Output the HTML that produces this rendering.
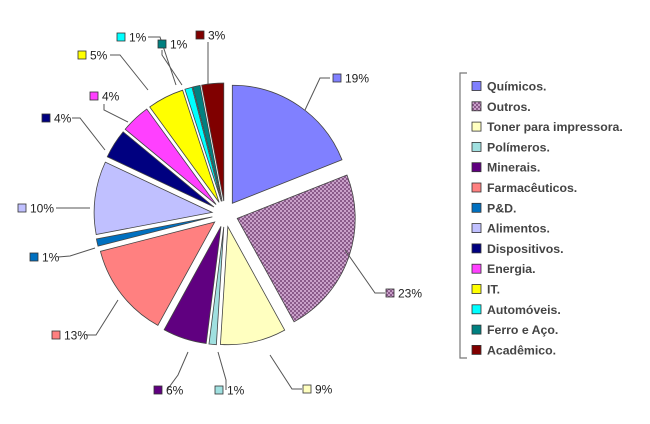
<!DOCTYPE html>
<html><head><meta charset="utf-8"><style>
body{margin:0;background:#fff;}
svg{display:block;font-family:"Liberation Sans",Arial,sans-serif;}
</style></head><body>
<svg id="s" width="650" height="424" viewBox="0 0 650 424" xmlns="http://www.w3.org/2000/svg">
<defs>
<pattern id="chk" width="4" height="4" patternUnits="userSpaceOnUse">
<rect width="4" height="4" fill="#c9a0c9"/>
<rect width="2" height="2" fill="#8a5a8a"/>
<rect x="2" y="2" width="2" height="2" fill="#8a5a8a"/>
</pattern>
</defs>
<g id="pie"></g>
<g id="lbl" font-size="12" fill="#222"></g>
<g id="leg" font-size="12.3" font-weight="bold" fill="#444"></g>
</svg>
<script>
var data=[
["Químicos.",19,"#8080ff"],["Outros.",23,"url(#chk)"],["Toner para impressora.",9,"#ffffc0"],
["Polímeros.",1,"#a0e0e0"],["Minerais.",6,"#600080"],["Farmacêuticos.",13,"#ff8080"],
["P&D.",1,"#0070c0"],["Alimentos.",10,"#c0c0ff"],["Dispositivos.",4,"#000080"],
["Energia.",4,"#ff40ff"],["IT.",5,"#ffff00"],["Automóveis.",1,"#00ffff"],
["Ferro e Aço.",1,"#008080"],["Acadêmico.",3,"#800000"]];
var NS="http://www.w3.org/2000/svg";
function el(t,a,p,txt){var e=document.createElementNS(NS,t);for(var k in a)e.setAttribute(k,a[k]);if(txt)e.textContent=txt;p.appendChild(e);return e;}
var cx=225,cy=214,R=118,off=13,pie=document.getElementById("pie");
var cum=0;
data.forEach(function(d){
 var a0=cum/100*2*Math.PI,a1=(cum+d[1])/100*2*Math.PI,am=(a0+a1)/2;cum+=d[1];
 var ox=cx+off*Math.sin(am),oy=cy-off*Math.cos(am);
 var x0=ox+R*Math.sin(a0),y0=oy-R*Math.cos(a0),x1=ox+R*Math.sin(a1),y1=oy-R*Math.cos(a1);
 el("path",{d:"M"+ox+","+oy+"L"+x0+","+y0+"A"+R+","+R+" 0 "+((a1-a0)>Math.PI?1:0)+" 1 "+x1+","+y1+"Z",fill:d[2],stroke:"#444","stroke-width":"0.8"},pie);
});
var L=document.getElementById("lbl");
var labels=[
[333,78,"19%",[[330,78],[320,78],[305,110]]],
[386,293,"23%",[[385,293],[375,293],[345,250]]],
[303,389,"9%",[[302,389],[292,389],[270,355]]],
[215,390,"1%",[[226,390],[226,380],[218,352]]],
[154,390,"6%",[[167,390],[178,375],[188,352]]],
[52,335,"13%",[[86,335],[96,335],[118,300]]],
[30,257,"1%",[[58,257],[70,256],[95,248]]],
[18,208,"10%",[[56,208],[66,208],[90,208]]],
[42,118,"4%",[[72,118],[80,118],[105,150]]],
[90,96,"4%",[[104,104],[104,110],[128,122]]],
[78,55,"5%",[[110,55],[120,55],[148,90]]],
[117,37,"1%",[[148,37],[160,37],[176,85]]],
[158,44,"1%",[[162,50],[162,55],[182,85]]],
[196,35,"3%",[[208,42],[208,50],[208,84]]]];
labels.forEach(function(l,i){
 el("polyline",{points:l[3].map(function(p){return p.join(",")}).join(" "),fill:"none",stroke:"#555","stroke-width":"1"},L);
 el("rect",{x:l[0],y:l[1]-4,width:8,height:8,fill:data[i][2],stroke:"#333","stroke-width":"0.8"},L);
 el("text",{x:l[0]+12,y:l[1]+4.5},L,l[2]);
});
var G=document.getElementById("leg");
el("polyline",{points:"467,73 460,73 460,358 467,358",fill:"none",stroke:"#777","stroke-width":"1.2"},G);
data.forEach(function(d,i){
 var y=86+i*20.3;
 el("rect",{x:472,y:y-4.5,width:9,height:9,fill:d[2],stroke:"#333","stroke-width":"0.8"},G);
 el("text",{x:487,y:y+4.5},G,d[0]);
});
</script>
</body></html>
